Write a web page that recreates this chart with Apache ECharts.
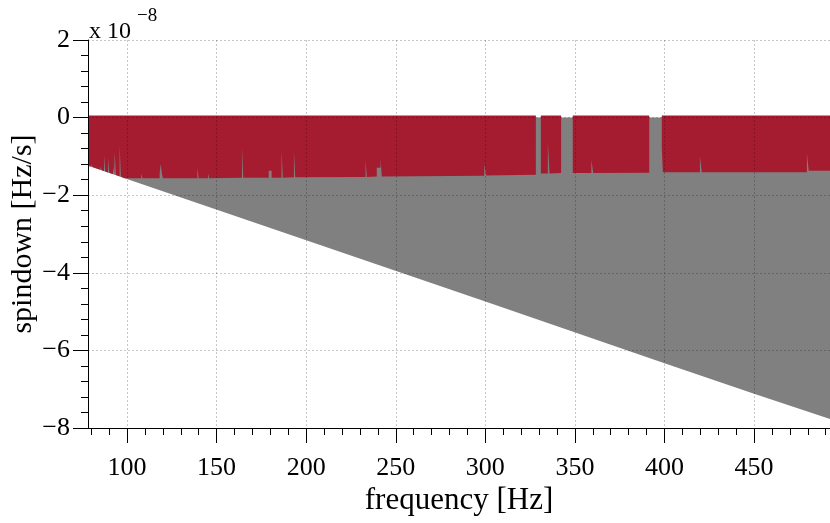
<!DOCTYPE html>
<html>
<head>
<meta charset="utf-8">
<script src="https://cdn.jsdelivr.net/npm/echarts@6/dist/echarts.min.js"></script>
<style>html,body{margin:0;padding:0;background:#fff}#c{width:830px;height:523px}</style>
</head>
<body>
<div id="c"></div>
<script>
// ---- data (spindown in units of 1e-8 Hz/s) ----
var xMin = 78.2, xMax = 492.4;
var xMajorTicks = [100, 150, 200, 250, 300, 350, 400, 450];
var xMinorTicks = [80, 90, 110, 120, 130, 140, 160, 170, 180, 190, 210, 220, 230, 240, 260, 270, 280, 290,
  310, 320, 330, 340, 360, 370, 380, 390, 410, 420, 430, 440, 460, 470, 480, 490];
var yTicks = [-8, -6, -4, -2, 0, 2];

// lower edge of the full (grey) search region
var grayFreq = [78.2, 98.7, 200, 300, 400, 450, 492.4];
var grayLow  = [-1.24, -1.56, -3.16, -4.74, -6.33, -7.12, -7.77];

// lower edge of the covered (red) region; null = gap
var redFreq = [
  78.2, 80.05, 80.05, 80.75, 80.75, 85.15, 85.15, 85.85, 85.85, 87.15, 87.15, 87.85, 87.85,
  89.35, 89.35, 90.05, 90.05, 92.15, 92.15, 92.85, 92.85, 93.1, 93.1, 93.75, 93.75,
  95.85, 95.85, 96.55, 96.55, 98.7,
  107.95, 107.95, 108.65, 108.65, 118.2, 118.2, 118.75, 118.75, 119.45, 119.45, 120.0, 120.0,
  139.25, 139.25, 139.95, 139.95, 145.15, 145.15, 145.85, 145.85,
  164.15, 164.15, 164.85, 164.85, 179.1, 179.1, 180.7, 180.7,
  186.25, 186.25, 186.95, 186.95, 193.15, 193.15, 193.85, 193.85,
  233.15, 233.15, 233.85, 233.85, 239.4, 239.4, 241.5, 241.5, 242.2, 242.2,
  299.4, 299.4, 300.5, 300.5, 328.2,
  329.6,
  331.0, 334.9, 334.9, 335.8, 335.8, 342.3,
  345.5,
  348.8, 359.2, 359.2, 360.2, 360.2, 391.5,
  395.0,
  398.5, 399.1, 399.1, 419.8, 419.8, 420.8, 420.8, 479.5, 479.5, 480.5, 480.5, 492.4
];
var redLow = [
  -1.236, -1.265, -1.20, -1.20, -1.276, -1.345, -1.26, -1.26, -1.356, -1.377, -0.99, -0.99, -1.388,
  -1.412, -1.05, -1.05, -1.423, -1.456, -1.26, -1.26, -1.467, -1.471, -0.90, -0.90, -1.481,
  -1.514, -0.72, -0.72, -1.525, -1.56,
  -1.56, -1.45, -1.45, -1.56, -1.56, -1.45, -1.45, -1.20, -1.20, -1.45, -1.45, -1.56,
  -1.56, -1.29, -1.29, -1.56, -1.56, -1.44, -1.44, -1.56,
  -1.55, -0.77, -0.77, -1.55, -1.55, -1.37, -1.37, -1.55,
  -1.55, -0.86, -0.86, -1.55, -1.54, -0.86, -0.86, -1.54,
  -1.53, -1.09, -1.09, -1.53, -1.52, -1.29, -1.29, -1.07, -1.07, -1.52,
  -1.50, -1.20, -1.20, -1.49, -1.47,
  null,
  -1.44, -1.44, -0.62, -0.62, -1.44, -1.43,
  null,
  -1.43, -1.43, -1.09, -1.09, -1.43, -1.42,
  null,
  -0.79, -0.79, -1.41, -1.41, -1.00, -1.00, -1.41, -1.41, -0.92, -0.92, -1.37, -1.37
];

var FONT = 'Liberation Serif';
var RED = '#a51c30', GRAY = '#808080';
function pairs(xs, ys) { return xs.map(function (x, i) { return [x, ys[i]]; }); }
var redTop = redLow.map(function (v) { return v === null ? null : 0; });

var chart = echarts.init(document.getElementById('c'), null, {renderer: 'canvas'});
var gridLine = {show: true, lineStyle: {color: 'rgba(0,0,0,0.22)', width: 1, type: [2, 2]}};
chart.setOption({
  animation: false,
  backgroundColor: '#fff',
  grid: {left: 88, right: 0, top: 40, bottom: 95, containLabel: false, outerBoundsMode: 'none'},
  graphic: [
    {type: 'text', left: 89, top: 20, style: {text: 'x 10', font: '24px "Liberation Serif"', fill: '#000'}},
    {type: 'text', left: 137, top: 7, style: {text: '\u22128', font: '19px "Liberation Serif"', fill: '#000'}}
  ],
  xAxis: [{
    type: 'value', min: xMin, max: xMax, position: 'bottom', z: 10,
    name: 'frequency [Hz]', nameLocation: 'middle', nameGap: 57, nameMoveOverlap: false,
    nameTextStyle: {fontFamily: FONT, fontSize: 31, color: '#000'},
    axisLine: {show: true, onZero: false, lineStyle: {color: '#000', width: 1}},
    axisTick: {show: true, length: 15, customValues: xMajorTicks, lineStyle: {color: '#000', width: 1}},
    axisLabel: {customValues: xMajorTicks, margin: 27, fontFamily: FONT, fontSize: 26, color: '#000'},
    splitLine: gridLine
  }, {
    type: 'value', min: xMin, max: xMax, position: 'bottom', offset: 0, z: 10,
    axisLine: {show: false, onZero: false},
    axisTick: {show: true, length: 7, customValues: xMinorTicks, lineStyle: {color: '#000', width: 1}},
    axisLabel: {show: false},
    splitLine: {show: false}
  }],
  yAxis: {
    type: 'value', min: yTicks[0], max: yTicks[yTicks.length - 1], interval: 2, z: 10,
    name: 'spindown [Hz/s]', nameLocation: 'middle', nameGap: 50, nameMoveOverlap: false,
    nameTextStyle: {fontFamily: FONT, fontSize: 30, color: '#000'},
    axisLine: {show: true, onZero: false, lineStyle: {color: '#000', width: 1}},
    axisTick: {show: true, length: 15, lineStyle: {color: '#000', width: 1}},
    minorTick: {show: true, splitNumber: 5, length: 7, lineStyle: {color: '#000', width: 1}},
    axisLabel: {margin: 18, fontFamily: FONT, fontSize: 26, color: '#000',
      formatter: function (v) { return String(v).replace('-', '\u2212'); }},
    splitLine: gridLine
  },
  series: [{
    type: 'line', name: 'searched', data: pairs(grayFreq, grayLow), showSymbol: false, z: 2,
    lineStyle: {width: 0, color: GRAY}, itemStyle: {color: GRAY},
    areaStyle: {color: GRAY, opacity: 1, origin: 0}
  }, {
    type: 'line', name: 'covered', data: pairs(redFreq, redLow), showSymbol: false, z: 3,
    connectNulls: false,
    lineStyle: {width: 0, color: RED}, itemStyle: {color: RED},
    areaStyle: {color: RED, opacity: 1, origin: 0}
  }, {
    type: 'line', name: 'covered-top', data: pairs(redFreq, redTop), showSymbol: false, z: 3,
    connectNulls: false,
    lineStyle: {width: 4, color: RED, cap: 'butt'}
  }]
});
</script>
</body>
</html>
